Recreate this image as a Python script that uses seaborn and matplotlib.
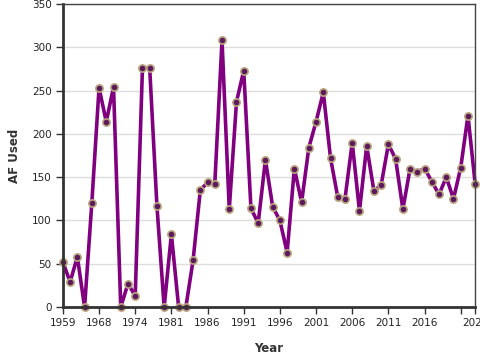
import numpy as np
import pandas as pd
import matplotlib
matplotlib.use("Agg")
import matplotlib.pyplot as plt
import seaborn as sns

# years on the x axis (categorical, gaps before 1981)
years = [1959, 1961, 1963, 1965, 1966, 1968, 1969, 1970, 1971, 1972,
         1974, 1975, 1977, 1978, 1980] + list(range(1981, 2024))

af_used = [52, 29, 58, 0, 120, 253, 214, 254, 0, 27,
           13, 276, 276, 117, 0, 84, 0, 0, 54, 135,
           144, 142, 308, 113, 237, 273, 114, 97, 170, 116,
           100, 63, 160, 121, 184, 214, 248, 172, 127, 125,
           190, 111, 186, 134, 141, 188, 171, 113, 160, 156,
           160, 145, 130, 150, 125, 161, 221, 142]

tick_years = [1959, 1968, 1974, 1981, 1986, 1991, 1996, 2001, 2006, 2011, 2016, 2021, 2023]

df = pd.DataFrame({"Year": years, "AF": af_used})
df["pos"] = np.arange(len(df))

sns.set_style("white")
plt.rcParams["font.family"] = ["DejaVu Sans"]

fig = plt.figure(figsize=(4.8, 3.6), dpi=100)
ax = fig.add_axes([0.131, 0.147, 0.859, 0.842])

sns.lineplot(data=df, x="pos", y="AF", ax=ax, color="#800080", linewidth=2.6,
             marker="o", markersize=5.2, markerfacecolor="#5c1a5c",
             markeredgecolor="#b8a57e", markeredgewidth=1.2, clip_on=False)

ax.set_xlim(0, len(df) - 1)
ax.set_ylim(0, 350)
ax.set_yticks(range(0, 351, 50))
ax.yaxis.grid(True, color="#dddddd", linewidth=1)
ax.set_axisbelow(True)

tick_pos = [years.index(y) for y in tick_years]
tick_lab = [str(y) if y != 2021 else "" for y in tick_years]
ax.set_xticks(tick_pos)
ax.set_xticklabels(tick_lab)

ax.tick_params(axis="both", labelsize=7.5, colors="#333333", length=5, width=1,
               direction="out", bottom=True, left=True, pad=3)
for lbl in ax.get_xticklabels() + ax.get_yticklabels():
    lbl.set_color("#222222")

for side in ["left", "bottom"]:
    ax.spines[side].set_color("#333333")
    ax.spines[side].set_linewidth(2)
for side in ["top", "right"]:
    ax.spines[side].set_color("#444444")
    ax.spines[side].set_linewidth(1)

ax.set_xlabel("Year", fontsize=8.5, fontweight="bold", color="#333333", labelpad=10)
ax.set_ylabel("AF Used", fontsize=8.5, fontweight="bold", color="#333333", labelpad=8)

fig.savefig("out.png", dpi=100)
